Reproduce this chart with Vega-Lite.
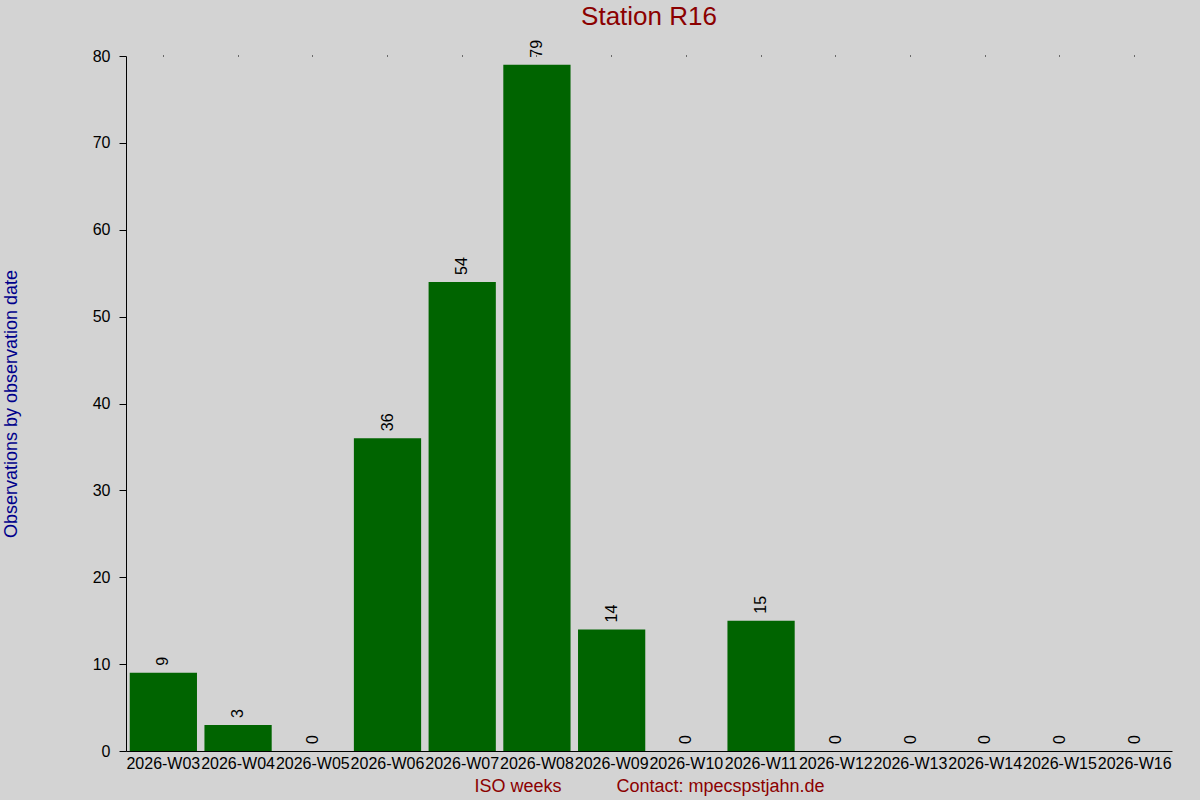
{
  "$schema": "https://vega.github.io/schema/vega-lite/v6.json",
  "autosize": {"type": "none"},
  "width": 1046,
  "height": 695,
  "padding": {"left": 126, "top": 56, "right": 28, "bottom": 49},
  "background": "#D3D3D3",
  "config": {
    "view": {"stroke": null},
    "font": "Liberation Sans",
    "axis": {"grid": false, "domainColor": "black", "tickColor": "black", "labelColor": "black", "labelFont": "Liberation Sans", "titleFont": "Liberation Sans", "titleFontWeight": "normal"}
  },
  "title": {
    "text": "Station R16",
    "color": "#8B0000",
    "fontSize": 26,
    "fontWeight": "normal",
    "font": "Liberation Sans",
    "offset": 10
  },
  "data": {
    "values": [
      {"week": "2026-W03", "count": 9},
      {"week": "2026-W04", "count": 3},
      {"week": "2026-W05", "count": 0},
      {"week": "2026-W06", "count": 36},
      {"week": "2026-W07", "count": 54},
      {"week": "2026-W08", "count": 79},
      {"week": "2026-W09", "count": 14},
      {"week": "2026-W10", "count": 0},
      {"week": "2026-W11", "count": 15},
      {"week": "2026-W12", "count": 0},
      {"week": "2026-W13", "count": 0},
      {"week": "2026-W14", "count": 0},
      {"week": "2026-W15", "count": 0},
      {"week": "2026-W16", "count": 0}
    ]
  },
  "resolve": {"axis": {"x": "independent"}},
  "encoding": {
    "y": {
      "field": "count",
      "type": "quantitative",
      "scale": {"domain": [0, 80], "nice": false},
      "axis": {
        "values": [0, 10, 20, 30, 40, 50, 60, 70, 80],
        "labelFontSize": 16,
        "tickSize": 7,
        "labelPadding": 9,
        "title": "Observations by observation date",
        "titleColor": "#00008B",
        "titleFontSize": 18,
        "titlePadding": 72
      }
    }
  },
  "layer": [
    {
      "mark": {"type": "bar", "color": "#006400"},
      "encoding": {
        "x": {
          "field": "week",
          "type": "nominal",
          "sort": null,
          "scale": {"paddingInner": 0.1, "paddingOuter": 0.05},
          "axis": {
            "orient": "bottom",
            "labelAngle": 0,
            "labelFontSize": 16,
            "labelPadding": 4,
            "ticks": false,
            "domainWidth": 1,
            "title": "ISO weeks\u00a0\u00a0\u00a0\u00a0\u00a0\u00a0\u00a0\u00a0\u00a0\u00a0\u00a0Contact: mpecspstjahn.de",
            "titleColor": "#8B0000",
            "titleFontSize": 18,
            "titlePadding": 6
          }
        }
      }
    },
    {
      "mark": {"type": "text", "angle": 270, "align": "left", "baseline": "middle", "dx": 7, "fontSize": 16, "color": "black", "font": "Liberation Sans"},
      "encoding": {
        "x": {"field": "week", "type": "nominal", "sort": null, "axis": null},
        "text": {"field": "count", "type": "quantitative"}
      }
    },
    {
      "mark": {"type": "tick", "opacity": 0},
      "encoding": {
        "x": {
          "field": "week",
          "type": "nominal",
          "sort": null,
          "axis": {"orient": "top", "labels": false, "domain": false, "title": null, "tickSize": 1, "tickWidth": 1, "tickColor": "black"}
        }
      }
    }
  ]
}
